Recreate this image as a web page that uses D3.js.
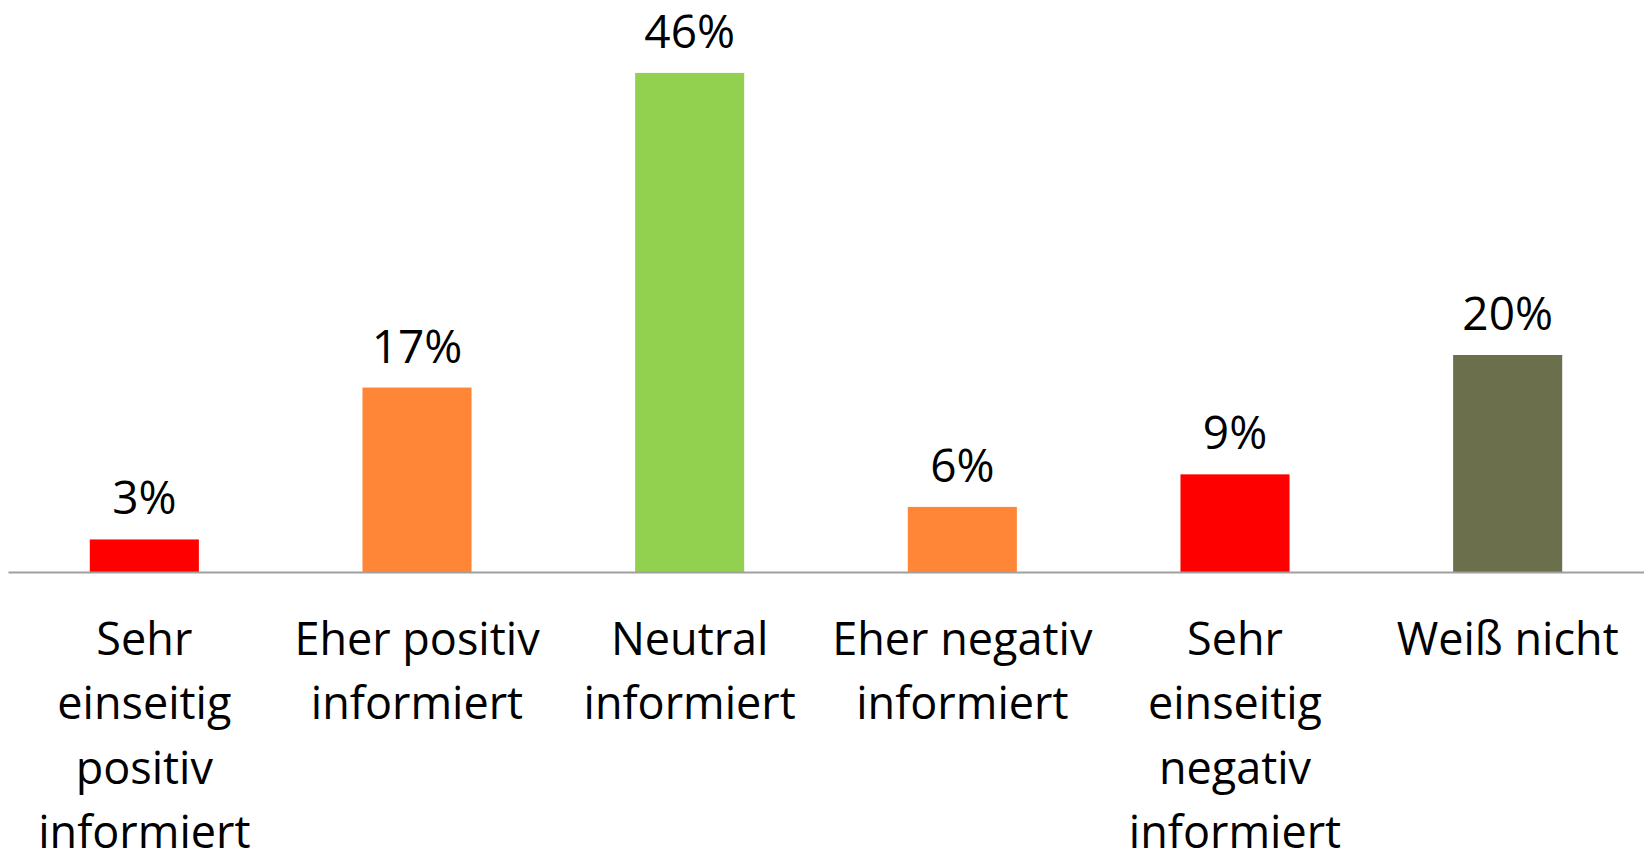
<!DOCTYPE html>
<html lang="de">
<head>
<meta charset="utf-8">
<script src="https://cdn.jsdelivr.net/npm/d3@7"></script>
<style>
  html, body { margin: 0; padding: 0; background: #ffffff; }
  svg { display: block; }
  text { font-family: "Open Sans", "Noto Sans", sans-serif; fill: #000; }
</style>
</head>
<body>
<svg id="chart" width="1644" height="855"></svg>
<script>
// Antwortkategorien (Zeilenumbrüche wie in der Achsenbeschriftung)
const categories = [
  "Sehr\neinseitig\npositiv\ninformiert",
  "Eher positiv\ninformiert",
  "Neutral\ninformiert",
  "Eher negativ\ninformiert",
  "Sehr\neinseitig\nnegativ\ninformiert",
  "Weiß nicht"
];
// Anteile in Prozent
const values = [3, 17, 46, 6, 9, 20];
const barColors = ["#ff0000", "#fe8636", "#92d050", "#fe8636", "#ff0000", "#6b6f4c"];

const W = 1644, H = 855;
const axisY = 572;

const svg = d3.select("#chart");

const x = d3.scaleBand()
  .domain(categories)
  .range([8, 1644])
  .paddingInner(0.6)
  .paddingOuter(0.3);

const y = d3.scaleLinear()
  .domain([0, 50])
  .range([axisY, axisY - 50 * 10.85]);

// Balken
svg.append("g")
  .selectAll("rect")
  .data(values)
  .join("rect")
  .attr("x", (d, i) => x(categories[i]))
  .attr("y", d => y(d))
  .attr("width", x.bandwidth())
  .attr("height", d => y(0) - y(d))
  .attr("fill", (d, i) => barColors[i]);

// Datenbeschriftungen
svg.append("g")
  .selectAll("text")
  .data(values)
  .join("text")
  .attr("x", (d, i) => x(categories[i]) + x.bandwidth() / 2)
  .attr("y", d => y(d) - 25)
  .attr("text-anchor", "middle")
  .attr("font-size", 46)
  .text(d => d + "%");

// Kategorienachse
const xAxis = d3.axisBottom(x).tickSize(0).tickFormat("");
const gx = svg.append("g")
  .attr("transform", `translate(0,${axisY})`)
  .call(xAxis);
gx.select(".domain")
  .attr("stroke", "#a0a0a0")
  .attr("stroke-width", 2.2);

// Mehrzeilige Achsenbeschriftungen
const lineH = 64.3;
svg.append("g")
  .selectAll("text")
  .data(categories)
  .join("text")
  .attr("x", d => x(d) + x.bandwidth() / 2)
  .attr("y", 655)
  .attr("text-anchor", "middle")
  .attr("font-size", 45)
  .each(function (d) {
    const t = d3.select(this);
    d.split("\n").forEach((line, j) => {
      t.append("tspan")
        .attr("x", x(d) + x.bandwidth() / 2)
        .attr("y", 655 + j * lineH)
        .text(line);
    });
  });
</script>
</body>
</html>
